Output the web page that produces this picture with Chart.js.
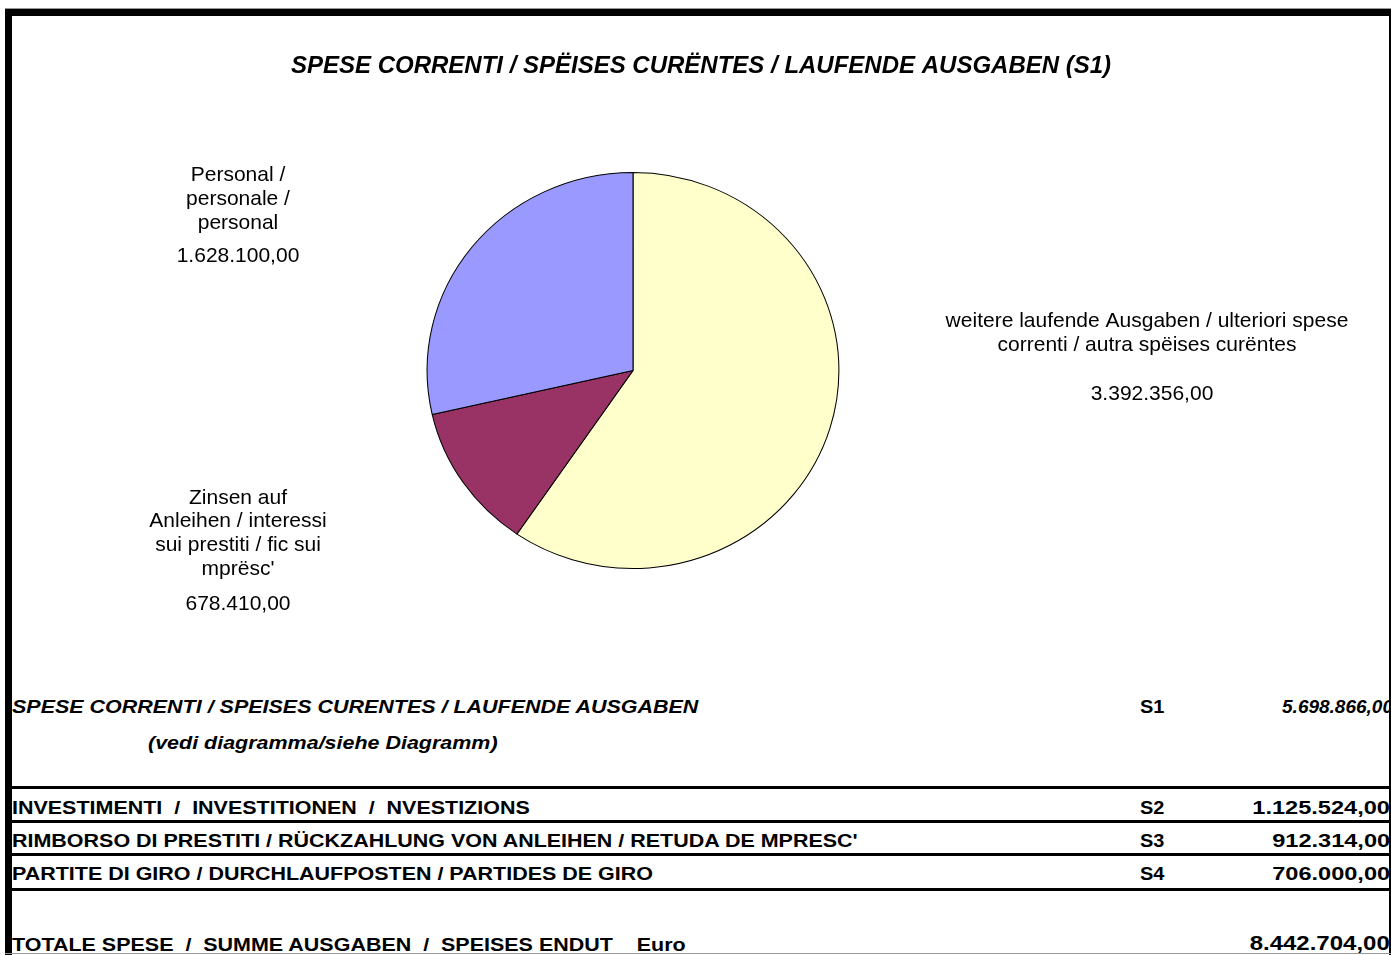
<!DOCTYPE html>
<html>
<head>
<meta charset="utf-8">
<script src="https://cdn.jsdelivr.net/npm/chart.js@4/dist/chart.umd.min.js"></script>
<style>
  body { margin: 0; background: #fff; font-family: "Liberation Sans", Arial, sans-serif; }
  #page { position: relative; width: 1391px; height: 955px; overflow: hidden; background: #fff; }
  #pie { position: absolute; left: 0; top: 0; }
  .bar { position: absolute; background: #000; }
  .txt { position: absolute; white-space: pre; font-weight: bold; color: #000; line-height: 1; }
</style>
</head>
<body>
<div id="page">
  <canvas id="pie" width="1391" height="680"></canvas>
  <div id="table"></div>
  <!-- frame -->
  <div class="bar" style="left:5px;top:8px;width:1386px;height:1px;background:#999"></div>
  <div class="bar" style="left:5px;top:9px;width:1386px;height:7px"></div>
  <div class="bar" style="left:5px;top:9px;width:7px;height:946px"></div>
  <div class="bar" style="left:1389px;top:9px;width:2px;height:946px"></div>
  <div class="bar" style="left:5px;top:953px;width:1386px;height:1px;background:#999"></div>
</div>
<script>
// Pie data (S1 breakdown)
const categories = [
  ['weitere laufende Ausgaben / ulteriori spese', 'correnti / autra spëises curëntes'],
  ['Zinsen auf', 'Anleihen / interessi', 'sui prestiti / fic sui', "mprësc'"],
  ['Personal /', 'personale /', 'personal']
];
const values = [3392356, 678410, 1628100];
const colors = ['#FFFFCC', '#993366', '#9999FF'];
const chartTitle = 'SPESE CORRENTI / SPËISES CURËNTES / LAUFENDE AUSGABEN (S1)';

// Summary table below the chart
const rowLabels = [
  'INVESTIMENTI  /  INVESTITIONEN  /  NVESTIZIONS',
  'RIMBORSO DI PRESTITI / RÜCKZAHLUNG VON ANLEIHEN / RETUDA DE MPRESC\'',
  'PARTITE DI GIRO / DURCHLAUFPOSTEN / PARTIDES DE GIRO'
];
const rowCodes = ['S2', 'S3', 'S4'];
const rowValues = [1125524, 912314, 706000];
const s1Label = 'SPESE CORRENTI / SPEISES CURENTES / LAUFENDE AUSGABEN';
const s1Note = '(vedi diagramma/siehe Diagramm)';
const totalLabel = 'TOTALE SPESE  /  SUMME AUSGABEN  /  SPEISES ENDUT    Euro';

function fmt(v) {
  return Math.round(v).toString().replace(/\B(?=(\d{3})+(?!\d))/g, '.') + ',00';
}

const s1Total = values.reduce((a, b) => a + b, 0);
const grandTotal = s1Total + rowValues.reduce((a, b) => a + b, 0);

// where the data labels go (same order as categories)
const labelPos = [
  { x: 1147, y: 327, vx: 1152, vy: 400 },
  { x: 238, y: 503.5, vx: 238, vy: 610 },
  { x: 238, y: 181, vx: 238, vy: 261.5 }
];

// Excel pie is a bit wider than tall
const stretch = {
  id: 'stretch',
  beforeDatasetsDraw(chart) {
    const arc = chart.getDatasetMeta(0).data[0];
    const ctx = chart.ctx;
    ctx.save();
    ctx.translate(arc.x, arc.y);
    ctx.scale(1.04, 1);
    ctx.translate(-arc.x, -arc.y);
  },
  afterDatasetsDraw(chart) {
    chart.ctx.restore();
  }
};

const texts = {
  id: 'texts',
  afterDraw(chart) {
    const ctx = chart.ctx;
    ctx.save();
    ctx.fillStyle = '#000';
    ctx.textAlign = 'center';
    ctx.textBaseline = 'alphabetic';
    ctx.font = 'italic bold 24px "Liberation Sans", Arial, sans-serif';
    ctx.fillText(chartTitle, 701, 73);
    ctx.font = '21px "Liberation Sans", Arial, sans-serif';
    chart.data.labels.forEach((lines, i) => {
      const p = labelPos[i];
      lines.forEach((ln, j) => ctx.fillText(ln, p.x, p.y + j * 23.8));
      ctx.fillText(fmt(chart.data.datasets[0].data[i]), p.vx, p.vy);
    });
    ctx.restore();
  }
};

new Chart(document.getElementById('pie').getContext('2d'), {
  type: 'pie',
  data: {
    labels: categories,
    datasets: [{
      data: values,
      backgroundColor: colors,
      borderColor: '#000',
      borderWidth: 1
    }]
  },
  options: {
    responsive: false,
    animation: false,
    devicePixelRatio: 1,
    layout: { padding: { top: 172, bottom: 111, left: 333, right: 458 } },
    plugins: {
      legend: { display: false },
      tooltip: { enabled: false }
    }
  },
  plugins: [stretch, texts]
});

// table (the sheet font renders wider than Arial, hence the scaleX)
const table = document.getElementById('table');
function addText(str, style, sx, right) {
  const d = document.createElement('div');
  d.className = 'txt';
  d.textContent = str;
  d.setAttribute('style', style + ';transform:scaleX(' + sx + ');transform-origin:' + (right ? 'right' : 'left') + ' center');
  table.appendChild(d);
}
function addLine(y) {
  const d = document.createElement('div');
  d.className = 'bar';
  d.setAttribute('style', 'left:12px;width:1377px;height:3px;top:' + y + 'px');
  table.appendChild(d);
}

addText(s1Label, 'left:12px;top:697px;font-size:19px;font-style:italic', 1.13);
addText('S1', 'left:1140px;top:697px;font-size:19px', 1.05);
addText(fmt(s1Total), 'right:-2px;top:697px;font-size:19px;font-style:italic', 1.0, true);
addText(s1Note, 'left:148px;top:733px;font-size:19px;font-style:italic', 1.13);

[786, 820, 853, 888].forEach(addLine);
const rowTops = [798, 831, 864];
rowLabels.forEach((lab, i) => {
  addText(lab, 'left:12px;top:' + rowTops[i] + 'px;font-size:19px', 1.13);
  addText(rowCodes[i], 'left:1140px;top:' + rowTops[i] + 'px;font-size:19px', 1.05);
  addText(fmt(rowValues[i]), 'right:1px;top:' + rowTops[i] + 'px;font-size:19px', 1.24, true);
});
addText(totalLabel, 'left:12px;top:935px;font-size:19px', 1.13);
addText(fmt(grandTotal), 'right:1px;top:933px;font-size:20px', 1.2, true);
</script>
</body>
</html>
